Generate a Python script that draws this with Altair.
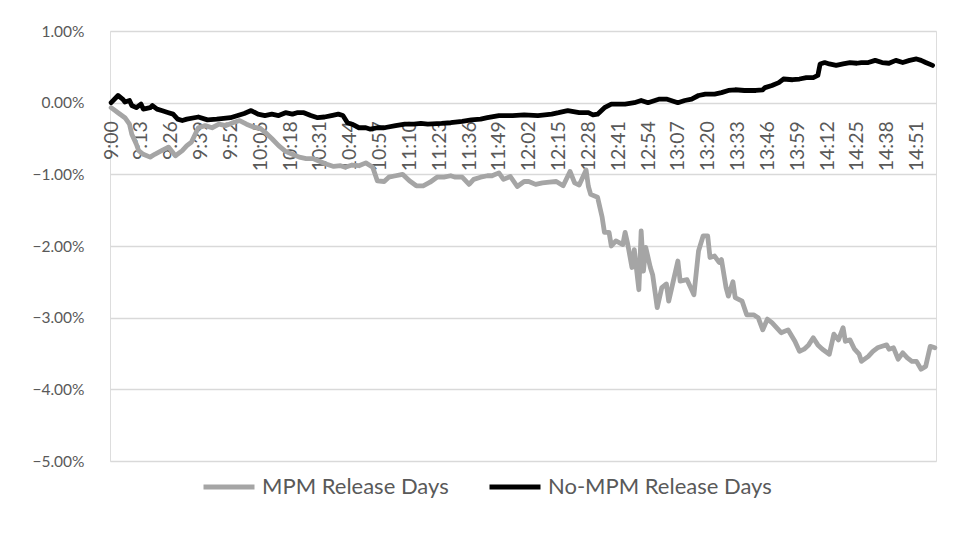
import altair as alt
import pandas as pd

series_names = ["MPM Release Days", "No-MPM Release Days"]
series_colors = ["#a5a5a5", "#000000"]

tick_labels = ["9:00", "9:13", "9:26", "9:39", "9:52", "10:05", "10:18", "10:31",
               "10:44", "10:57", "11:10", "11:23", "11:36", "11:49", "12:02", "12:15",
               "12:28", "12:41", "12:54", "13:07", "13:20", "13:33", "13:46", "13:59",
               "14:12", "14:25", "14:38", "14:51"]
y_ticks = [-5, -4, -3, -2, -1, 0, 1]

# minutes after 9:00 and values in percent
mpm_minutes = [0, 3, 6, 8, 9, 11, 12, 14, 17, 19, 22, 25, 28, 31, 33, 35, 38, 41, 44, 47,
               50, 53, 56, 59, 62, 65, 67, 70, 73, 76, 79, 82, 85, 88, 91, 94, 97, 100, 102, 105,
               108, 111, 114, 116, 119, 121, 124, 127, 130, 133, 136, 139, 142, 145, 148, 150, 153, 156, 158, 161,
               164, 166, 169, 171, 174, 177, 180, 182, 185, 188, 191, 194, 197, 200, 202, 204, 207, 208, 209, 212,
               214, 215, 217, 218, 220, 223, 224, 225, 227, 228, 230, 231, 232, 233, 235, 236, 238, 240, 242, 243,
               245, 247, 248, 251, 254, 256, 258, 260, 261, 263, 265, 266, 268, 269, 271, 272, 275, 277, 280, 282,
               284, 286, 288, 290, 292, 295, 298, 300, 302, 304, 306, 308, 310, 313, 315, 317, 319, 320, 322, 324,
               326, 327, 330, 332, 334, 336, 338, 339, 341, 343, 345, 347, 349, 351, 353, 355, 357, 359]
mpm_values = [-0.07, -0.14, -0.21, -0.30, -0.44, -0.58, -0.67, -0.72, -0.76, -0.72, -0.67, -0.62, -0.74, -0.67, -0.60, -0.55, -0.35, -0.32, -0.35, -0.30,
              -0.32, -0.28, -0.25, -0.30, -0.34, -0.36, -0.41, -0.50, -0.60, -0.68, -0.72, -0.76, -0.78, -0.78, -0.82, -0.86, -0.89, -0.88, -0.90, -0.87,
              -0.88, -0.84, -0.90, -1.09, -1.10, -1.04, -1.02, -1.00, -1.09, -1.16, -1.16, -1.11, -1.04, -1.04, -1.02, -1.04, -1.04, -1.14, -1.07, -1.04,
              -1.02, -1.02, -0.98, -1.07, -1.03, -1.17, -1.10, -1.10, -1.14, -1.12, -1.11, -1.10, -1.16, -0.96, -1.12, -1.15, -0.94, -1.17, -1.28, -1.32,
              -1.60, -1.81, -1.81, -2.00, -1.93, -1.98, -1.81, -1.95, -2.30, -2.05, -2.61, -1.79, -2.35, -2.02, -2.30, -2.40, -2.86, -2.58, -2.53, -2.77,
              -2.49, -2.21, -2.49, -2.47, -2.68, -2.07, -1.86, -1.86, -2.16, -2.14, -2.23, -2.19, -2.58, -2.70, -2.50, -2.72, -2.77, -2.96, -2.96, -3.00,
              -3.17, -3.02, -3.07, -3.14, -3.21, -3.17, -3.33, -3.47, -3.44, -3.38, -3.28, -3.38, -3.44, -3.51, -3.23, -3.31, -3.14, -3.33, -3.31, -3.44,
              -3.51, -3.61, -3.54, -3.47, -3.42, -3.40, -3.38, -3.44, -3.42, -3.58, -3.49, -3.56, -3.61, -3.61, -3.72, -3.68, -3.40, -3.42]

nompm_minutes = [0, 3, 5, 6, 8, 9, 11, 13, 14, 17, 18, 20, 22, 25, 27, 29, 31, 33, 38, 42,
                 46, 52, 58, 61, 64, 67, 70, 73, 76, 79, 81, 84, 87, 90, 93, 96, 99, 101, 103, 105,
                 108, 111, 113, 116, 119, 124, 128, 132, 135, 138, 144, 148, 153, 157, 161, 164, 169, 175, 180, 186,
                 192, 195, 199, 204, 208, 210, 212, 215, 218, 224, 228, 231, 234, 239, 242, 244, 247, 250, 253, 256,
                 259, 263, 266, 269, 272, 276, 281, 284, 285, 288, 291, 293, 297, 300, 303, 306, 308, 309, 311, 313,
                 316, 319, 322, 325, 327, 330, 333, 336, 339, 342, 345, 348, 351, 353, 355, 358]
nompm_values = [0.00, 0.10, 0.05, 0.01, 0.03, -0.04, -0.07, -0.02, -0.09, -0.07, -0.04, -0.09, -0.11, -0.14, -0.16, -0.23, -0.25, -0.23, -0.20, -0.24,
                -0.23, -0.21, -0.15, -0.11, -0.16, -0.18, -0.16, -0.18, -0.14, -0.16, -0.14, -0.14, -0.18, -0.21, -0.20, -0.18, -0.16, -0.18, -0.28, -0.30,
                -0.35, -0.35, -0.37, -0.35, -0.35, -0.32, -0.30, -0.30, -0.29, -0.30, -0.29, -0.28, -0.26, -0.24, -0.23, -0.21, -0.18, -0.18, -0.17, -0.18,
                -0.16, -0.14, -0.11, -0.14, -0.14, -0.17, -0.16, -0.07, -0.02, -0.02, 0.00, 0.03, 0.00, 0.05, 0.05, 0.03, 0.00, 0.03, 0.05, 0.10,
                0.12, 0.12, 0.14, 0.17, 0.18, 0.17, 0.17, 0.18, 0.21, 0.24, 0.28, 0.33, 0.32, 0.33, 0.35, 0.35, 0.38, 0.54, 0.56, 0.54,
                0.52, 0.54, 0.56, 0.55, 0.56, 0.56, 0.59, 0.56, 0.55, 0.59, 0.56, 0.59, 0.61, 0.59, 0.56, 0.52]


def to_label(m):
    t = 540 + m
    return f"{t // 60}:{t % 60:02d}"


all_times = [to_label(m) for m in range(360)]

rows = []
for name, mins, vals in [(series_names[0], mpm_minutes, mpm_values),
                         (series_names[1], nompm_minutes, nompm_values)]:
    for m, v in zip(mins, vals):
        rows.append({"minute": m, "time": to_label(m), "value": v, "series": name})
df = pd.DataFrame(rows)

FONT = "Lato"
TXT = "#595959"
H = 430
W = 826

x_enc = alt.X("time:O",
              scale=alt.Scale(domain=all_times, type="point", padding=0.5),
              axis=alt.Axis(values=tick_labels, labelAngle=-90, orient="bottom",
                            offset=-(H * 5 / 6), domain=False, ticks=False, grid=False,
                            labelPadding=18, labelFontSize=19.5, labelColor=TXT, labelFont=FONT,
                            zindex=0, title=None))
y_enc = alt.Y("value:Q",
              scale=alt.Scale(domain=[-5, 1], nice=False, zero=False),
              axis=alt.Axis(values=y_ticks, labelExpr="format(datum.value, '.2f') + '%'",
                            grid=True, gridColor="#d9d9d9", gridWidth=1.3, domain=False, ticks=False,
                            labelPadding=26, labelFontSize=15.5, labelColor=TXT, labelFont=FONT,
                            zindex=0, title=None))
color_enc = alt.Color("series:N",
                      scale=alt.Scale(domain=series_names, range=series_colors),
                      legend=alt.Legend(title=None, orient="none", legendX=91, legendY=428,
                                        direction="horizontal", symbolType="stroke",
                                        symbolSize=2600, symbolStrokeWidth=5,
                                        labelFontSize=22, labelColor=TXT, labelFont=FONT,
                                        labelLimit=0, columnPadding=30, labelOffset=5))

base = alt.Chart(df).mark_line(strokeWidth=4.8, strokeJoin="round", strokeCap="round").encode(
    x=x_enc, y=y_enc, color=color_enc, order=alt.Order("minute:Q"))

grey = base.transform_filter(alt.datum.series == series_names[0])
black = base.transform_filter(alt.datum.series == series_names[1])

chart = alt.layer(grey, black).properties(
    width=W, height=H,
    autosize=alt.AutoSizeParams(type="none"),
    padding={"left": 102, "top": 23, "right": 19, "bottom": 83},
).configure_view(stroke=None).configure(background="white")

chart.save("out.html", embed_options={"renderer": "svg", "actions": False})
